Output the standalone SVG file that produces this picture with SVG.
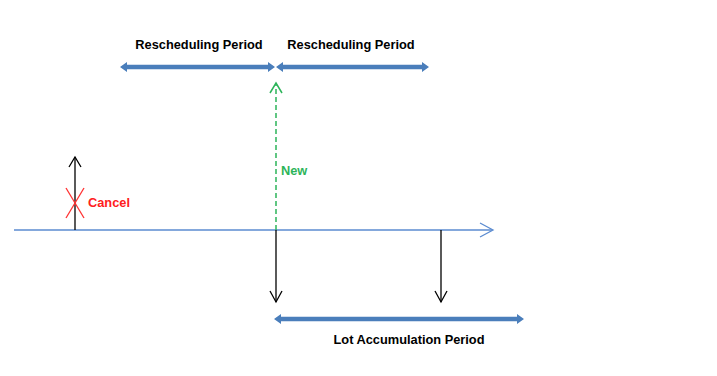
<svg xmlns="http://www.w3.org/2000/svg" width="717" height="376" viewBox="0 0 717 376">
<style>
.lbl{font-family:"Liberation Sans",Arial,sans-serif;font-weight:bold;font-size:12.8px}
.per{fill:#4A7EBB}
.blk{stroke:#000;stroke-width:1.3;fill:none}
</style>
<rect width="717" height="376" fill="#fff"/>
<g id="connectors">
  <g id="timeline">
    <line x1="14" y1="230" x2="492" y2="230" stroke="#5B8BD0" stroke-width="1.3"/>
    <polyline points="480,223 493,230 480,237" fill="none" stroke="#5B8BD0" stroke-width="1.3"/>
  </g>
  <g id="cancel-arrow">
    <line class="blk" x1="75" y1="230" x2="75" y2="157"/>
    <polyline class="blk" points="69,167 75,157 81,167"/>
  </g>
  <g id="new-arrow">
    <line x1="276" y1="230" x2="276" y2="84" stroke="#2DB45A" stroke-width="1.5" stroke-dasharray="5,3"/>
    <polyline points="270,93 276,83 282,93" fill="none" stroke="#2DB45A" stroke-width="1.5"/>
  </g>
  <g id="down1">
    <line class="blk" x1="276" y1="230" x2="276" y2="302"/>
    <polyline class="blk" points="270,291 276,302 282,291"/>
  </g>
  <g id="down2">
    <line class="blk" x1="441" y1="230" x2="441" y2="302"/>
    <polyline class="blk" points="435,291 441,302 447,291"/>
  </g>
</g>
<g id="resched1">
  <path class="per" d="M120,67 L127,62 L127,64.8 L268,64.8 L268,62 L275,67 L268,72 L268,69.2 L127,69.2 L127,72 Z"/>
  <text class="lbl" x="199" y="49" text-anchor="middle">Rescheduling Period</text>
</g>
<g id="resched2">
  <path class="per" d="M276,67 L283,62 L283,64.8 L422,64.8 L422,62 L429,67 L422,72 L422,69.2 L283,69.2 L283,72 Z"/>
  <text class="lbl" x="351" y="49" text-anchor="middle">Rescheduling Period</text>
</g>
<g id="lot">
  <path class="per" d="M274,319 L281,314 L281,316.8 L517,316.8 L517,314 L524,319 L517,324 L517,321.2 L281,321.2 L281,324 Z"/>
  <text class="lbl" x="409" y="344" text-anchor="middle">Lot Accumulation Period</text>
</g>
<g id="cancel">
  <line x1="66" y1="188" x2="84" y2="218" stroke="#FF3030" stroke-width="1.3"/>
  <line x1="84" y1="188" x2="66" y2="218" stroke="#FF3030" stroke-width="1.3"/>
  <text class="lbl" x="88" y="207" fill="#FF2020">Cancel</text>
</g>
<g id="new">
  <text class="lbl" x="281" y="175" fill="#2DB45A">New</text>
</g>
</svg>
